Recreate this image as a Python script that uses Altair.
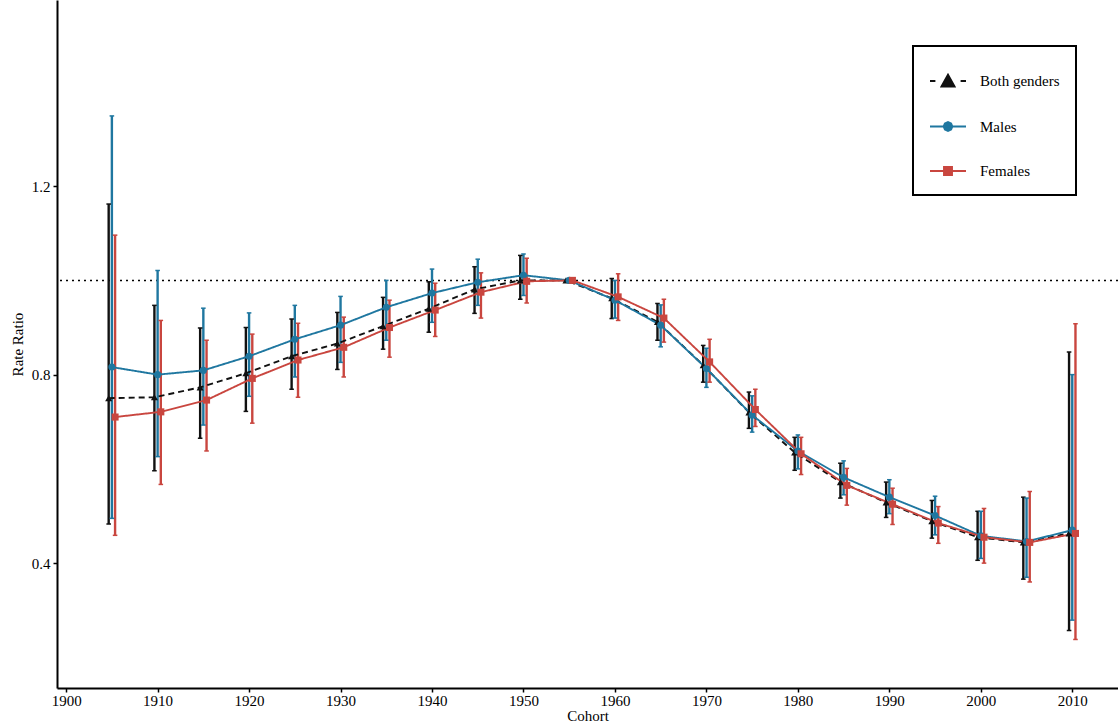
import altair as alt
import pandas as pd

# ---- data ----
cohorts = [1905, 1910, 1915, 1920, 1925, 1930, 1935, 1940, 1945, 1950, 1955,
           1960, 1965, 1970, 1975, 1980, 1985, 1990, 1995, 2000, 2005, 2010]

series_names = ["Both genders", "Males", "Females"]
series_colors = ["#111111", "#1f77a0", "#c9463f"]
series_shapes = ["triangle-up", "circle", "square"]
series_dashes = [[6, 4], [1, 0], [1, 0]]

both_est = [0.750, 0.752, 0.773, 0.803, 0.839, 0.866, 0.903, 0.940, 0.981, 1.000, 1.000,
            0.962, 0.912, 0.820, 0.720, 0.635, 0.572, 0.529, 0.489, 0.455, 0.444, 0.463]
both_lo = [0.483, 0.596, 0.665, 0.722, 0.769, 0.811, 0.854, 0.890, 0.930, 0.960, 1.000,
           0.919, 0.873, 0.784, 0.686, 0.597, 0.538, 0.497, 0.453, 0.406, 0.366, 0.257]
both_hi = [1.162, 0.947, 0.899, 0.900, 0.918, 0.932, 0.964, 0.997, 1.029, 1.053, 1.000,
           1.004, 0.951, 0.862, 0.763, 0.667, 0.612, 0.572, 0.533, 0.510, 0.540, 0.848]

male_est = [0.816, 0.800, 0.809, 0.839, 0.875, 0.905, 0.943, 0.973, 0.996, 1.011, 1.000,
            0.958, 0.905, 0.813, 0.714, 0.638, 0.582, 0.540, 0.501, 0.458, 0.446, 0.470]
male_lo = [0.495, 0.626, 0.693, 0.754, 0.795, 0.826, 0.873, 0.911, 0.947, 0.968, 1.000,
           0.920, 0.859, 0.773, 0.678, 0.600, 0.545, 0.505, 0.460, 0.410, 0.370, 0.279]
male_hi = [1.349, 1.021, 0.941, 0.931, 0.947, 0.966, 1.000, 1.024, 1.045, 1.056, 1.000,
           1.000, 0.948, 0.856, 0.755, 0.672, 0.617, 0.577, 0.542, 0.510, 0.538, 0.800]

fem_est = [0.710, 0.721, 0.746, 0.792, 0.831, 0.858, 0.900, 0.937, 0.975, 0.998, 1.000,
           0.965, 0.920, 0.827, 0.726, 0.632, 0.565, 0.525, 0.485, 0.455, 0.444, 0.463]
fem_lo = [0.459, 0.567, 0.638, 0.697, 0.752, 0.795, 0.837, 0.881, 0.920, 0.952, 1.000,
          0.915, 0.869, 0.784, 0.690, 0.588, 0.523, 0.482, 0.442, 0.400, 0.360, 0.238]
fem_hi = [1.096, 0.915, 0.873, 0.886, 0.909, 0.922, 0.958, 0.994, 1.016, 1.047, 1.000,
          1.014, 0.960, 0.875, 0.769, 0.667, 0.601, 0.559, 0.520, 0.516, 0.552, 0.908]

x_ticks = [1900, 1910, 1920, 1930, 1940, 1950, 1960, 1970, 1980, 1990, 2000, 2010]
y_ticks = [0.4, 0.8, 1.2]

rows = []
for name, est, lo, hi in [("Both genders", both_est, both_lo, both_hi),
                          ("Males", male_est, male_lo, male_hi),
                          ("Females", fem_est, fem_lo, fem_hi)]:
    for c, e, l, h in zip(cohorts, est, lo, hi):
        rows.append({"cohort": c, "series": name, "est": e, "lower": l, "upper": h})
df = pd.DataFrame(rows)
ref_df = pd.DataFrame({"ref": [1.0]})

FONT = "Liberation Serif"

dodge = ("datum.cohort + (datum.series == 'Both genders' ? -0.35 : "
         "(datum.series == 'Females' ? 0.35 : 0))")

xscale = alt.Scale(domain=[1899, 2015], nice=False, zero=False)
yscale = alt.Scale(domain=[0.135, 1.595], nice=False, zero=False)

x_enc = alt.X("xd:Q", scale=xscale, title="Cohort",
              axis=alt.Axis(values=x_ticks, format="d", labelFlush=False,
                            labelOverlap=False, labelPadding=1, titlePadding=0))
y_axis = alt.Axis(values=y_ticks, format=".1f", labelFlush=False, labelOverlap=False,
                  labelPadding=3, titlePadding=6)
y_enc = alt.Y("est:Q", scale=yscale, title="Rate Ratio", axis=y_axis)

base = alt.Chart(df).transform_calculate(xd=dodge)

bar_layers, cap_layers, line_layers, point_layers = [], [], [], []
for name, col, shp, dash in zip(series_names, series_colors, series_shapes, series_dashes):
    sub = base.transform_filter(alt.datum.series == name)
    bar_layers.append(
        sub.mark_rule(strokeWidth=2.4, color=col).encode(
            x=x_enc,
            y=alt.Y("lower:Q", scale=yscale, title="Rate Ratio", axis=y_axis),
            y2="upper:Q",
        )
    )
    cap_layers.append(
        sub.transform_fold(["lower", "upper"], as_=["end", "val"]).transform_calculate(
            xa="datum.xd - 0.25", xb="datum.xd + 0.25"
        ).mark_rule(strokeWidth=1.5, color=col).encode(
            x=alt.X("xa:Q", scale=xscale, title="Cohort"),
            x2="xb:Q",
            y=alt.Y("val:Q", scale=yscale, title="Rate Ratio"),
        )
    )
    line_layers.append(
        sub.mark_line(strokeWidth=1.9, color=col, strokeDash=dash).encode(x=x_enc, y=y_enc)
    )
    point_layers.append(
        sub.mark_point(filled=True, opacity=1, size=50, shape=shp, color=col).encode(
            x=x_enc, y=y_enc)
    )

refline = alt.Chart(ref_df).mark_rule(color="black", strokeWidth=1.5, strokeDash=[2, 4]).encode(
    y=alt.Y("ref:Q", scale=yscale, title="Rate Ratio"),
)

legend_paths = [
    "M-1,0H-0.7M0.7,0H1M-0.36,0.3L0,-0.34L0.36,0.3Z",
    "M-1,0H1M-0.24,0L-0.17,-0.17L0,-0.24L0.17,-0.17L0.24,0L0.17,0.17L0,0.24L-0.17,0.17Z",
    "M-1,0H1M-0.22,-0.22H0.22V0.22H-0.22Z",
]

legend_props = dict(title=None, orient="none", legendX=856, legendY=46,
                    padding=16, rowPadding=16.5, symbolSize=1296, symbolStrokeWidth=2,
                    symbolOpacity=1, symbolFillColor="black", symbolStrokeColor="black",
                    labelFont=FONT, labelFontSize=15, labelColor="black",
                    labelOffset=13, strokeColor="black", fillColor="white")

legend_layer = base.mark_point(filled=True, opacity=0, size=1).encode(
    x=x_enc,
    y=y_enc,
    fill=alt.Fill("series:N", scale=alt.Scale(domain=series_names, range=series_colors),
                  legend=alt.Legend(**legend_props)),
    stroke=alt.Stroke("series:N", scale=alt.Scale(domain=series_names, range=series_colors),
                      legend=alt.Legend(**legend_props)),
    shape=alt.Shape("series:N", scale=alt.Scale(domain=series_names, range=legend_paths),
                    legend=alt.Legend(**legend_props)),
)

chart = alt.layer(refline, *bar_layers, *cap_layers, *line_layers, *point_layers,
                  legend_layer).properties(
    width=1061,
    height=688,
    autosize=alt.AutoSizeParams(type="none"),
    padding={"left": 57, "top": 0, "right": 0, "bottom": 36},
    background="white",
).configure_axis(
    grid=False,
    domainColor="black",
    domainWidth=2,
    tickColor="black",
    tickSize=4,
    tickWidth=1.5,
    labelFont=FONT,
    labelFontSize=15,
    labelColor="black",
    titleFont=FONT,
    titleFontSize=15,
    titleFontWeight="normal",
    titleColor="black",
).configure_view(
    stroke="transparent",
).configure_legend(
    strokeWidth=2,
)

chart.save("out.html", embed_options={"renderer": "svg", "actions": False})
